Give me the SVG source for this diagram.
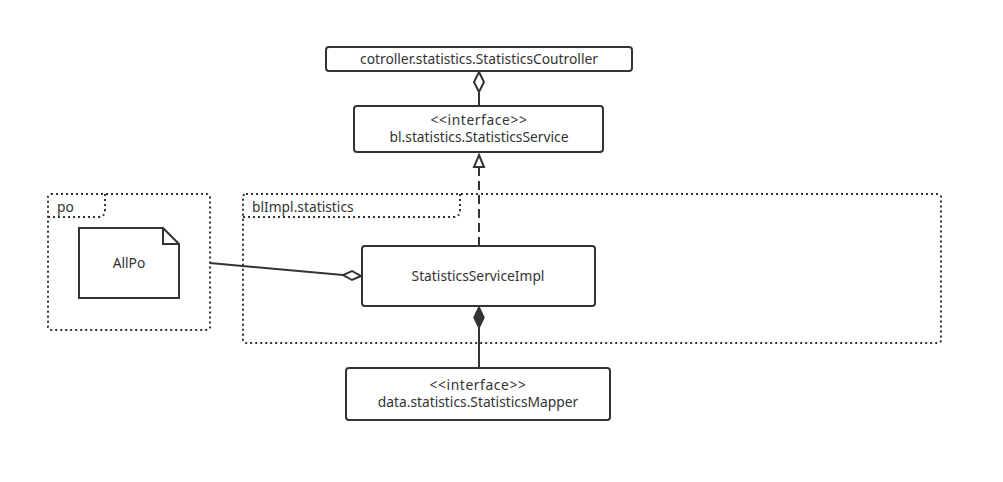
<svg xmlns="http://www.w3.org/2000/svg" width="1003" height="482" viewBox="0 0 1003 482">
<style>
.box{fill:#fff;stroke:#333;stroke-width:2}
.pkg{fill:none;stroke:#333;stroke-width:2;stroke-dasharray:2 3}
.t{font-family:"Noto Sans","Liberation Sans",sans-serif;font-size:13.8px;fill:#333;text-anchor:middle}
.tl{font-family:"Noto Sans","Liberation Sans",sans-serif;font-size:13.8px;fill:#333}
.st{letter-spacing:0.6px}
.ln{fill:none;stroke:#333;stroke-width:2}
</style>
<rect width="1003" height="482" fill="#fff"/>
<g id="pkg-po">
<rect class="pkg" x="48" y="194" width="162" height="136" rx="3"/>
<path class="pkg" d="M48,217 H98 Q105,217 105,210 V194"/>
<text class="tl" x="57" y="212">po</text>
</g>
<g id="pkg-blImpl">
<rect class="pkg" x="243" y="194" width="698" height="149" rx="3"/>
<path class="pkg" d="M243,217 H453 Q460,217 460,210 V194"/>
<text class="tl" x="252" y="212">blImpl.statistics</text>
</g>
<g id="connectors">
<line class="ln" x1="479" y1="92" x2="479" y2="106"/>
<path d="M479,72 L484,82 L479,92 L474,82 Z" fill="#fff" stroke="#333" stroke-width="2"/>
<line class="ln" x1="479" y1="167" x2="479" y2="246" stroke-dasharray="9 5"/>
<path d="M479,155 L484,167 L474,167 Z" fill="#fff" stroke="#333" stroke-width="2"/>
<line class="ln" x1="210" y1="263" x2="343" y2="275"/>
<path d="M361,276 L352,280 L343,275 L352,271 Z" fill="#fff" stroke="#333" stroke-width="2"/>
<line class="ln" x1="479" y1="328" x2="479" y2="368"/>
<path d="M479,307 L484,317.5 L479,328 L474,317.5 Z" fill="#333" stroke="#333" stroke-width="1.5"/>
</g>
<g id="controller">
<rect class="box" x="326" y="47" width="306" height="24" rx="3"/>
<text class="t" x="479" y="64">cotroller.statistics.StatisticsCoutroller</text>
</g>
<g id="service">
<rect class="box" x="354" y="106" width="249" height="46" rx="3"/>
<text class="t st" x="479" y="125">&lt;&lt;interface&gt;&gt;</text>
<text class="t" x="479" y="142">bl.statistics.StatisticsService</text>
</g>
<g id="allpo">
<path class="box" d="M79,228 H163 L179,244 V298 H79 Z"/>
<path class="ln" d="M163,228 V244 H179"/>
<text class="t" x="129" y="268">AllPo</text>
</g>
<g id="impl">
<rect class="box" x="362" y="246" width="233" height="60" rx="3"/>
<text class="t" x="478" y="281">StatisticsServiceImpl</text>
</g>
<g id="mapper">
<rect class="box" x="346" y="368" width="264" height="52" rx="3"/>
<text class="t st" x="478" y="390">&lt;&lt;interface&gt;&gt;</text>
<text class="t" x="478" y="407">data.statistics.StatisticsMapper</text>
</g>
</svg>
